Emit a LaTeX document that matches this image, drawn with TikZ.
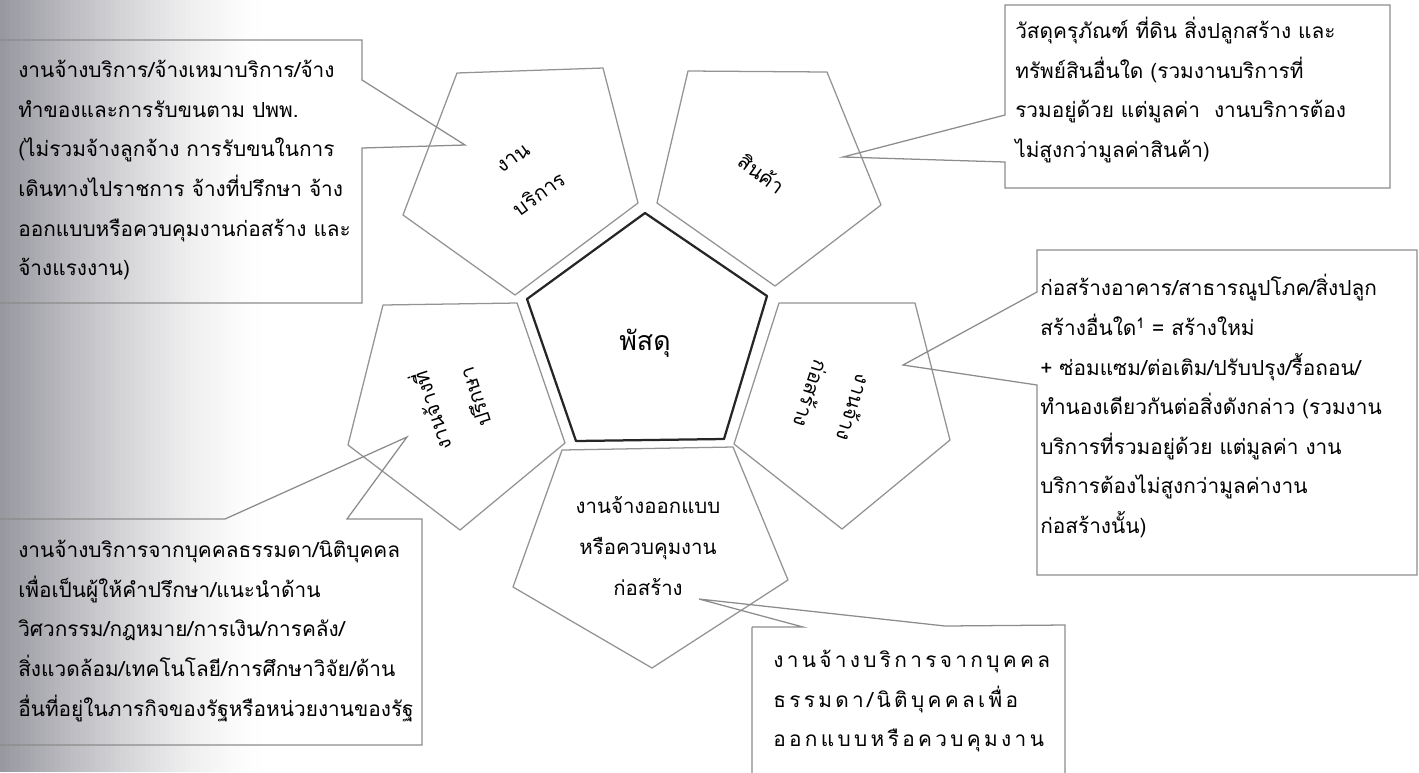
\documentclass[tikz,border=0pt]{standalone}
\usepackage{fontspec}
\setmainfont[Script=Thai]{Loma}
\newfontfamily\spacedfont[Script=Thai,LetterSpace=16]{Loma}
\usetikzlibrary{positioning}
\definecolor{scan}{RGB}{152,152,160}

\begin{document}
\begin{tikzpicture}[x=0.025cm,y=-0.025cm,
  pent/.style={draw=gray!85, line width=0.9pt, line join=round},
  core/.style={draw=black!85, line width=1.6pt, line join=round},
  callout/.style={draw=gray!90, line width=0.9pt, line join=miter},
  lbl/.style={font=\fontsize{14.5}{32}\selectfont, align=center, inner sep=0pt},
  txt/.style={font=\fontsize{14.8}{28.2}\selectfont, align=left, anchor=north west, inner sep=0pt}]
\useasboundingbox (0,0) rectangle (1419,772);
% faded scan edge
\foreach \i in {0,...,51} {
  \pgfmathsetmacro\p{100*(1-\i/52)^1.4}
  \fill[scan!\p!white] (\i*5,0) rectangle (\i*5+5.5,772);
}
% centre
\draw[core] (645,213) -- (767,296) -- (724,439) -- (576,441) -- (527,299) -- cycle;
\node[lbl, font=\fontsize{19}{24}\selectfont] (material) at (645,343) {พัสดุ};
% ring of pentagons
\draw[pent] (457,73) -- (603,68) -- (638,203) -- (515,295) -- (403,215) -- cycle;
\node[lbl, rotate=36] (service) at (527,177) {งาน\\บริการ};
\draw[pent] (688,71) -- (827,72) -- (881,205) -- (775,286) -- (657,203) -- cycle;
\node[lbl, rotate=-36] (goods) at (762,173) {สินค้า};
\draw[pent] (383,305) -- (517,303) -- (565,443) -- (460,530) -- (348,445) -- cycle;
\node[lbl, rotate=108] (advisor) at (451,405) {งานจ้างที่\\ปรึกษา};
\draw[pent] (779,303) -- (915,303) -- (950,440) -- (842,529) -- (734,444) -- cycle;
\node[lbl, rotate=-108] (build) at (833,401) {งานจ้าง\\ก่อสร้าง};
\draw[pent] (562,450) -- (733,447) -- (788,580) -- (652,668) -- (513,587) -- cycle;
\node[lbl, font=\fontsize{14.5}{29}\selectfont] (design) at (648,546) {งานจ้างออกแบบ\\หรือควบคุมงาน\\ก่อสร้าง};
% callouts
\coordinate (servicetip) at (465,145);
\coordinate (goodstip) at (843,157);
\coordinate (buildtip) at (903,365);
\coordinate (advisortip) at (407,437);
\coordinate (designtip) at (699,599);
\draw[callout] (-5,40) -- (362,40) -- (362,80) -- (servicetip) -- (362,148) -- (362,303) -- (-5,303);
\draw[callout] (1005,5) -- (1390,5) -- (1390,188) -- (1005,188) -- (1005,162) -- (goodstip) -- (1005,115) -- cycle;
\draw[callout] (1037,250) -- (1417,250) -- (1417,575) -- (1037,575) -- (1037,385) -- (buildtip) -- (1037,292) -- cycle;
\draw[callout] (-5,519) -- (225,519) -- (advisortip) -- (347,519) -- (422,519) -- (422,745) -- (-5,745);
\draw[callout] (752,627) -- (803,627) -- (designtip) -- (945,626) -- (1065,625) -- (1065,780) (752,780) -- (752,627);
% notes
\node[txt] (servicenote) at (18,60) {งานจ้างบริการ/จ้างเหมาบริการ/จ้าง\\ทำของและการรับขนตาม ปพพ.\\(ไม่รวมจ้างลูกจ้าง การรับขนในการ\\เดินทางไปราชการ จ้างที่ปรึกษา จ้าง\\ออกแบบหรือควบคุมงานก่อสร้าง และ\\จ้างแรงงาน)};
\node[txt] (goodsnote) at (1015,17) {วัสดุครุภัณฑ์ ที่ดิน สิ่งปลูกสร้าง และ\\ทรัพย์สินอื่นใด (รวมงานบริการที่\\รวมอยู่ด้วย แต่มูลค่า\ \ งานบริการต้อง\\ไม่สูงกว่ามูลค่าสินค้า)};
\node[txt] (buildnote) at (1040,274) {ก่อสร้างอาคาร/สาธารณูปโภค/สิ่งปลูก\\สร้างอื่นใด\textsuperscript{1} = สร้างใหม่\\+ ซ่อมแซม/ต่อเติม/ปรับปรุง/รื้อถอน/\\ทำนองเดียวกันต่อสิ่งดังกล่าว (รวมงาน\\บริการที่รวมอยู่ด้วย แต่มูลค่า งาน\\บริการต้องไม่สูงกว่ามูลค่างาน\\ก่อสร้างนั้น)};
\node[txt] (advisornote) at (18,540) {งานจ้างบริการจากบุคคลธรรมดา/นิติบุคคล\\เพื่อเป็นผู้ให้คำปรึกษา/แนะนำด้าน\\วิศวกรรม/กฎหมาย/การเงิน/การคลัง/\\สิ่งแวดล้อม/เทคโนโลยี/การศึกษาวิจัย/ด้าน\\อื่นที่อยู่ในภารกิจของรัฐหรือหน่วยงานของรัฐ};
\node[txt, font=\spacedfont\fontsize{14.8}{28.2}\selectfont] (designnote) at (773,650) {งานจ้างบริการจากบุคคล\\ธรรมดา/นิติบุคคลเพื่อ\\ออกแบบหรือควบคุมงาน};
\end{tikzpicture}
\end{document}
